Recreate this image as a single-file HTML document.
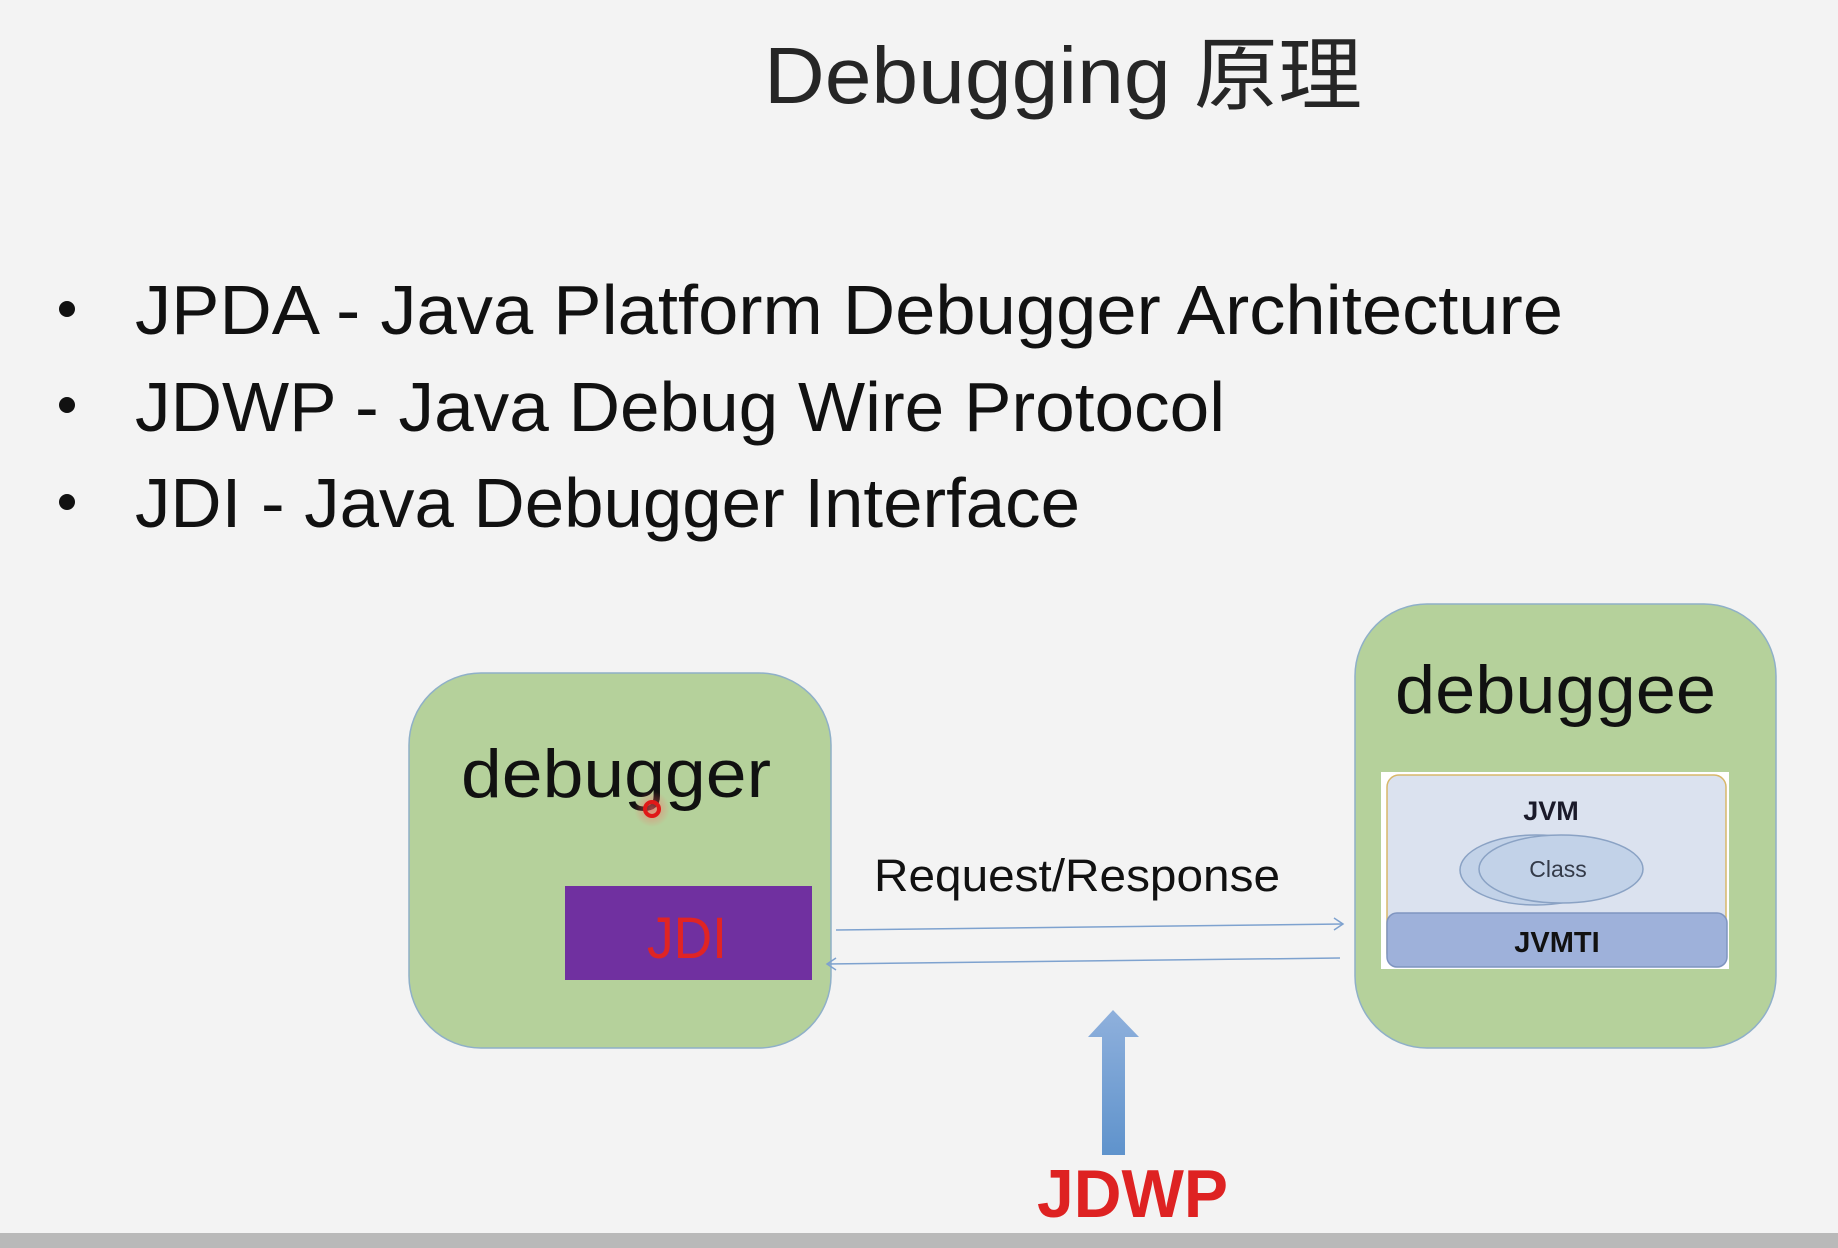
<!DOCTYPE html>
<html><head><meta charset="utf-8"><style>
html,body{margin:0;padding:0;background:#f3f3f3;}
svg{display:block}
</style></head><body>
<svg width="1838" height="1248" viewBox="0 0 1838 1248" xmlns="http://www.w3.org/2000/svg">
<defs>
<linearGradient id="ag" x1="0" y1="0" x2="0" y2="1">
<stop offset="0" stop-color="#8fb0dc"/><stop offset="1" stop-color="#5f93cc"/>
</linearGradient>
<radialGradient id="rg"><stop offset="0" stop-color="#ff6060" stop-opacity="0.6"/><stop offset="1" stop-color="#ff6060" stop-opacity="0"/></radialGradient>
</defs>
<rect width="1838" height="1248" fill="#f3f3f3"/>
<rect x="0" y="1233" width="1838" height="15" fill="#b9b9b9"/>
<g font-family="'Liberation Sans','Noto Sans CJK SC',sans-serif">
<text x="1063" y="103" font-size="80" text-anchor="middle" fill="#262626" textLength="598" lengthAdjust="spacingAndGlyphs">Debugging 原理</text>
<g font-size="70" fill="#111">
<circle cx="67" cy="309" r="8"/><circle cx="67" cy="405" r="8"/><circle cx="67" cy="502" r="8"/>
<text x="135" y="334" textLength="1428" lengthAdjust="spacingAndGlyphs">JPDA - Java Platform Debugger Architecture</text>
<text x="135" y="431" textLength="1090" lengthAdjust="spacingAndGlyphs">JDWP - Java Debug Wire Protocol</text>
<text x="135" y="527" textLength="945" lengthAdjust="spacingAndGlyphs">JDI - Java Debugger Interface</text>
</g>
<rect x="409" y="673" width="422" height="375" rx="72" fill="#b5d19b" stroke="#8fb0c8" stroke-width="1.5"/>
<text x="461" y="797" font-size="68" fill="#111" textLength="310" lengthAdjust="spacingAndGlyphs">debugger</text>
<circle cx="652" cy="809" r="18" fill="url(#rg)"/>
<circle cx="652" cy="809" r="7" fill="none" stroke="#e01818" stroke-width="4"/>
<rect x="565" y="886" width="247" height="94" fill="#7030a0"/>
<text x="687" y="958" font-size="58" fill="#e02424" text-anchor="middle" textLength="80" lengthAdjust="spacingAndGlyphs">JDI</text>
<rect x="1355" y="604" width="421" height="444" rx="72" fill="#b5d19b" stroke="#8fb0c8" stroke-width="1.5"/>
<text x="1395" y="713" font-size="68" fill="#111" textLength="321" lengthAdjust="spacingAndGlyphs">debuggee</text>
<rect x="1381" y="772" width="348" height="197" fill="#ffffff"/>
<rect x="1387" y="775" width="339" height="190" rx="12" fill="#dbe2ef" stroke="#d8b86a" stroke-width="1.5"/>
<text x="1551" y="820" font-size="27" font-weight="bold" fill="#1a1a2a" text-anchor="middle">JVM</text>
<ellipse cx="1536" cy="870" rx="76" ry="35" fill="#c2d2e8" stroke="#8aa2c4" stroke-width="1.5"/>
<ellipse cx="1561" cy="869" rx="82" ry="34" fill="#c2d2e8" stroke="#8aa2c4" stroke-width="1.5"/>
<text x="1558" y="877" font-size="23" fill="#333a48" text-anchor="middle">Class</text>
<rect x="1387" y="913" width="340" height="54" rx="10" fill="#9eb1da" stroke="#7f95c0" stroke-width="1.5"/>
<text x="1557" y="952" font-size="29" font-weight="bold" fill="#111" text-anchor="middle">JVMTI</text>
<text x="874" y="891" font-size="45" fill="#111" textLength="406" lengthAdjust="spacingAndGlyphs">Request/Response</text>
<g stroke="#7ea2cf" stroke-width="1.5" fill="none">
<line x1="836" y1="930" x2="1343" y2="924"/>
<polyline points="1334,918 1343,924 1334,930"/>
<line x1="1340" y1="958" x2="827" y2="964"/>
<polyline points="836,958 827,964 836,970"/>
</g>
<polygon points="1113,1010 1139,1037 1125,1037 1125,1155 1102,1155 1102,1037 1088,1037" fill="url(#ag)"/>
<text x="1037" y="1217" font-size="68" font-weight="bold" fill="#de2222" textLength="191" lengthAdjust="spacingAndGlyphs">JDWP</text>
</g>
</svg>
</body></html>
